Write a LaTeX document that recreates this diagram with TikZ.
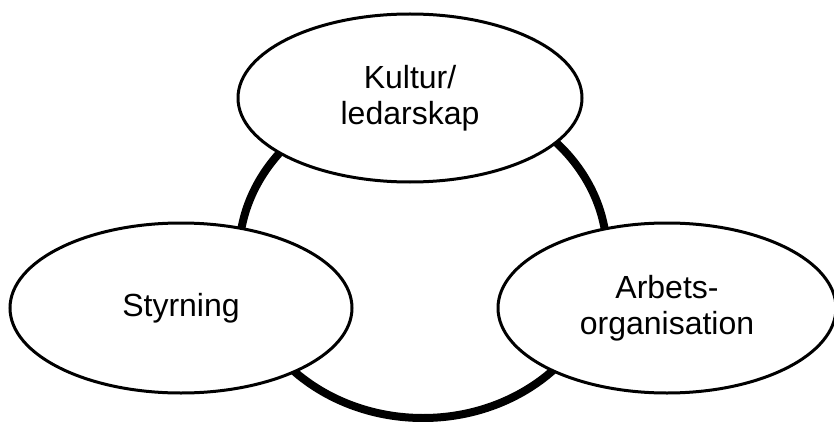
\documentclass[tikz,border=0pt]{standalone}
\usepackage{fontspec}
\setmainfont{Liberation Sans}
\usetikzlibrary{shapes.geometric}
\tikzset{
  area/.style={draw, ellipse, fill=white, line width=3pt, inner sep=0pt,
    align=center, font=\fontsize{32}{36.5}\selectfont},
  ring/.style={draw, ellipse, line width=8pt, inner sep=0pt,
    minimum width=368pt, minimum height=326pt}
}
\begin{document}
\begin{tikzpicture}[x=1pt,y=-1pt]
      \useasboundingbox (0,0) rectangle (834,422);
      \node[ring] (cycle) at (423,255) {};
      \draw
        (410,98) node[area, minimum width=344pt, minimum height=168pt] (kultur){Kultur/\\ledarskap}
        (181,308) node[area, minimum width=342pt, minimum height=170pt] (styrning){Styrning}
        (667,308) node[area, minimum width=338pt, minimum height=170pt] (arbete){Arbets-\\organisation};
    \end{tikzpicture}
\end{document}
